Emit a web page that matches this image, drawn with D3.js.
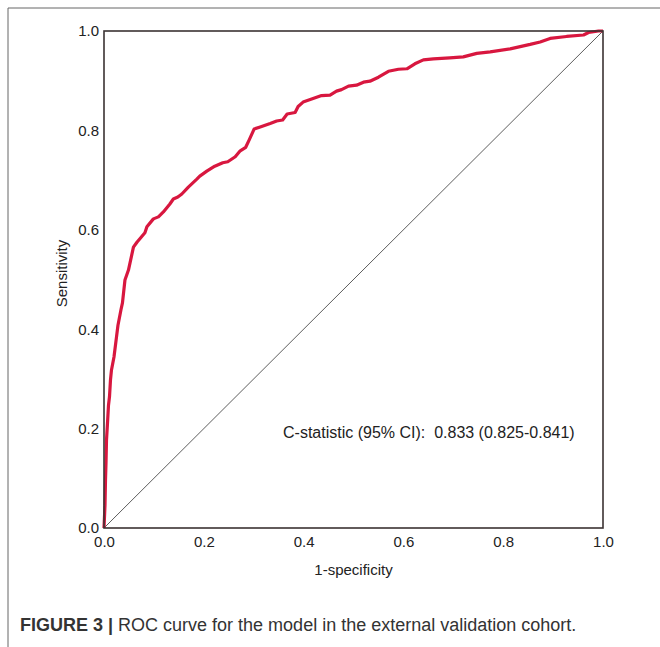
<!DOCTYPE html>
<html><head><meta charset="utf-8">
<script src="https://cdn.jsdelivr.net/npm/d3@7"></script>
<style>body{margin:0;background:#fff;} text{font-family:"Liberation Sans",Arial,sans-serif;}</style>
</head><body>
<script>
const fpr = [0,0.002,0.003,0.004,0.005,0.007,0.009,0.011,0.013,0.015,0.020,0.025,0.028,0.034,0.037,0.042,0.049,0.059,0.066,0.082,0.086,0.099,0.109,0.119,0.132,0.139,0.148,0.156,0.169,0.186,0.192,0.206,0.222,0.238,0.248,0.263,0.273,0.284,0.291,0.301,0.313,0.333,0.346,0.358,0.367,0.383,0.389,0.399,0.419,0.436,0.453,0.466,0.476,0.490,0.506,0.520,0.533,0.550,0.570,0.590,0.607,0.623,0.640,0.660,0.693,0.720,0.747,0.774,0.814,0.854,0.874,0.894,0.927,0.961,0.971,0.991,1];
const tpr = [0,0.046,0.097,0.131,0.177,0.211,0.247,0.264,0.298,0.318,0.344,0.384,0.408,0.439,0.453,0.499,0.519,0.565,0.575,0.594,0.606,0.622,0.626,0.636,0.652,0.662,0.666,0.672,0.686,0.702,0.708,0.718,0.728,0.735,0.737,0.747,0.759,0.766,0.781,0.803,0.807,0.814,0.819,0.821,0.833,0.836,0.848,0.857,0.864,0.870,0.871,0.879,0.882,0.889,0.891,0.897,0.899,0.907,0.919,0.923,0.924,0.934,0.942,0.944,0.946,0.948,0.955,0.958,0.964,0.973,0.978,0.985,0.989,0.992,0.997,1,1];
const ticks = [0,0.2,0.4,0.6,0.8,1.0];
const xLabel = "1-specificity", yLabel = "Sensitivity";
const annotation = "C-statistic (95% CI):  0.833 (0.825-0.841)";
const captionBold = "FIGURE 3 |", captionText = " ROC curve for the model in the external validation cohort.";

const W=660,H=647;
const svg=d3.select("body").append("svg").attr("width",W).attr("height",H);
svg.append("path").attr("d","M8,647V8H660").attr("fill","none").attr("stroke","#666").attr("stroke-width",1);

const x=d3.scaleLinear().domain([0,1]).range([104,603]);
const y=d3.scaleLinear().domain([0,1]).range([528,31]);

svg.append("line").attr("x1",x(0)).attr("y1",y(0)).attr("x2",x(1)).attr("y2",y(1))
  .attr("stroke","#333").attr("stroke-width",0.8);

const pts=fpr.map((d,i)=>[d,tpr[i]]);
svg.append("path").datum(pts)
  .attr("d",d3.line().x(d=>x(d[0])).y(d=>y(d[1])))
  .attr("fill","none").attr("stroke","#d8173f").attr("stroke-width",3.2).attr("stroke-linejoin","round");

svg.append("rect").attr("x",x(0)).attr("y",y(1)).attr("width",x(1)-x(0)).attr("height",y(0)-y(1))
  .attr("fill","none").attr("stroke","#3b3333").attr("stroke-width",1.6);

const xa=svg.append("g").attr("transform",`translate(0,${y(0)})`)
  .call(d3.axisBottom(x).tickValues(ticks).tickFormat(d3.format(".1f")).tickSize(0).tickPadding(8));
const ya=svg.append("g").attr("transform",`translate(${x(0)},0)`)
  .call(d3.axisLeft(y).tickValues(ticks).tickFormat(d3.format(".1f")).tickSize(0).tickPadding(5));
[xa,ya].forEach(g=>{g.select(".domain").remove();g.selectAll("text").attr("font-size",15).attr("fill","#222").attr("font-family","Liberation Sans, Arial, sans-serif");});

svg.append("text").attr("x",(x(0)+x(1))/2).attr("y",575).attr("text-anchor","middle")
  .attr("font-size",15).attr("fill","#222").text(xLabel);
svg.append("text").attr("transform",`translate(67,${(y(0)+y(1))/2-6}) rotate(-90)`).attr("text-anchor","middle")
  .attr("font-size",15).attr("fill","#222").text(yLabel);

svg.append("text").attr("x",283).attr("y",438).attr("font-size",16).attr("fill","#222")
  .attr("xml:space","preserve").style("white-space","pre").text(annotation);

const cap=svg.append("text").attr("x",20).attr("y",631).attr("font-size",18).attr("fill","#333");
cap.append("tspan").attr("font-weight","bold").text(captionBold);
cap.append("tspan").text(captionText);
</script>
</body></html>
